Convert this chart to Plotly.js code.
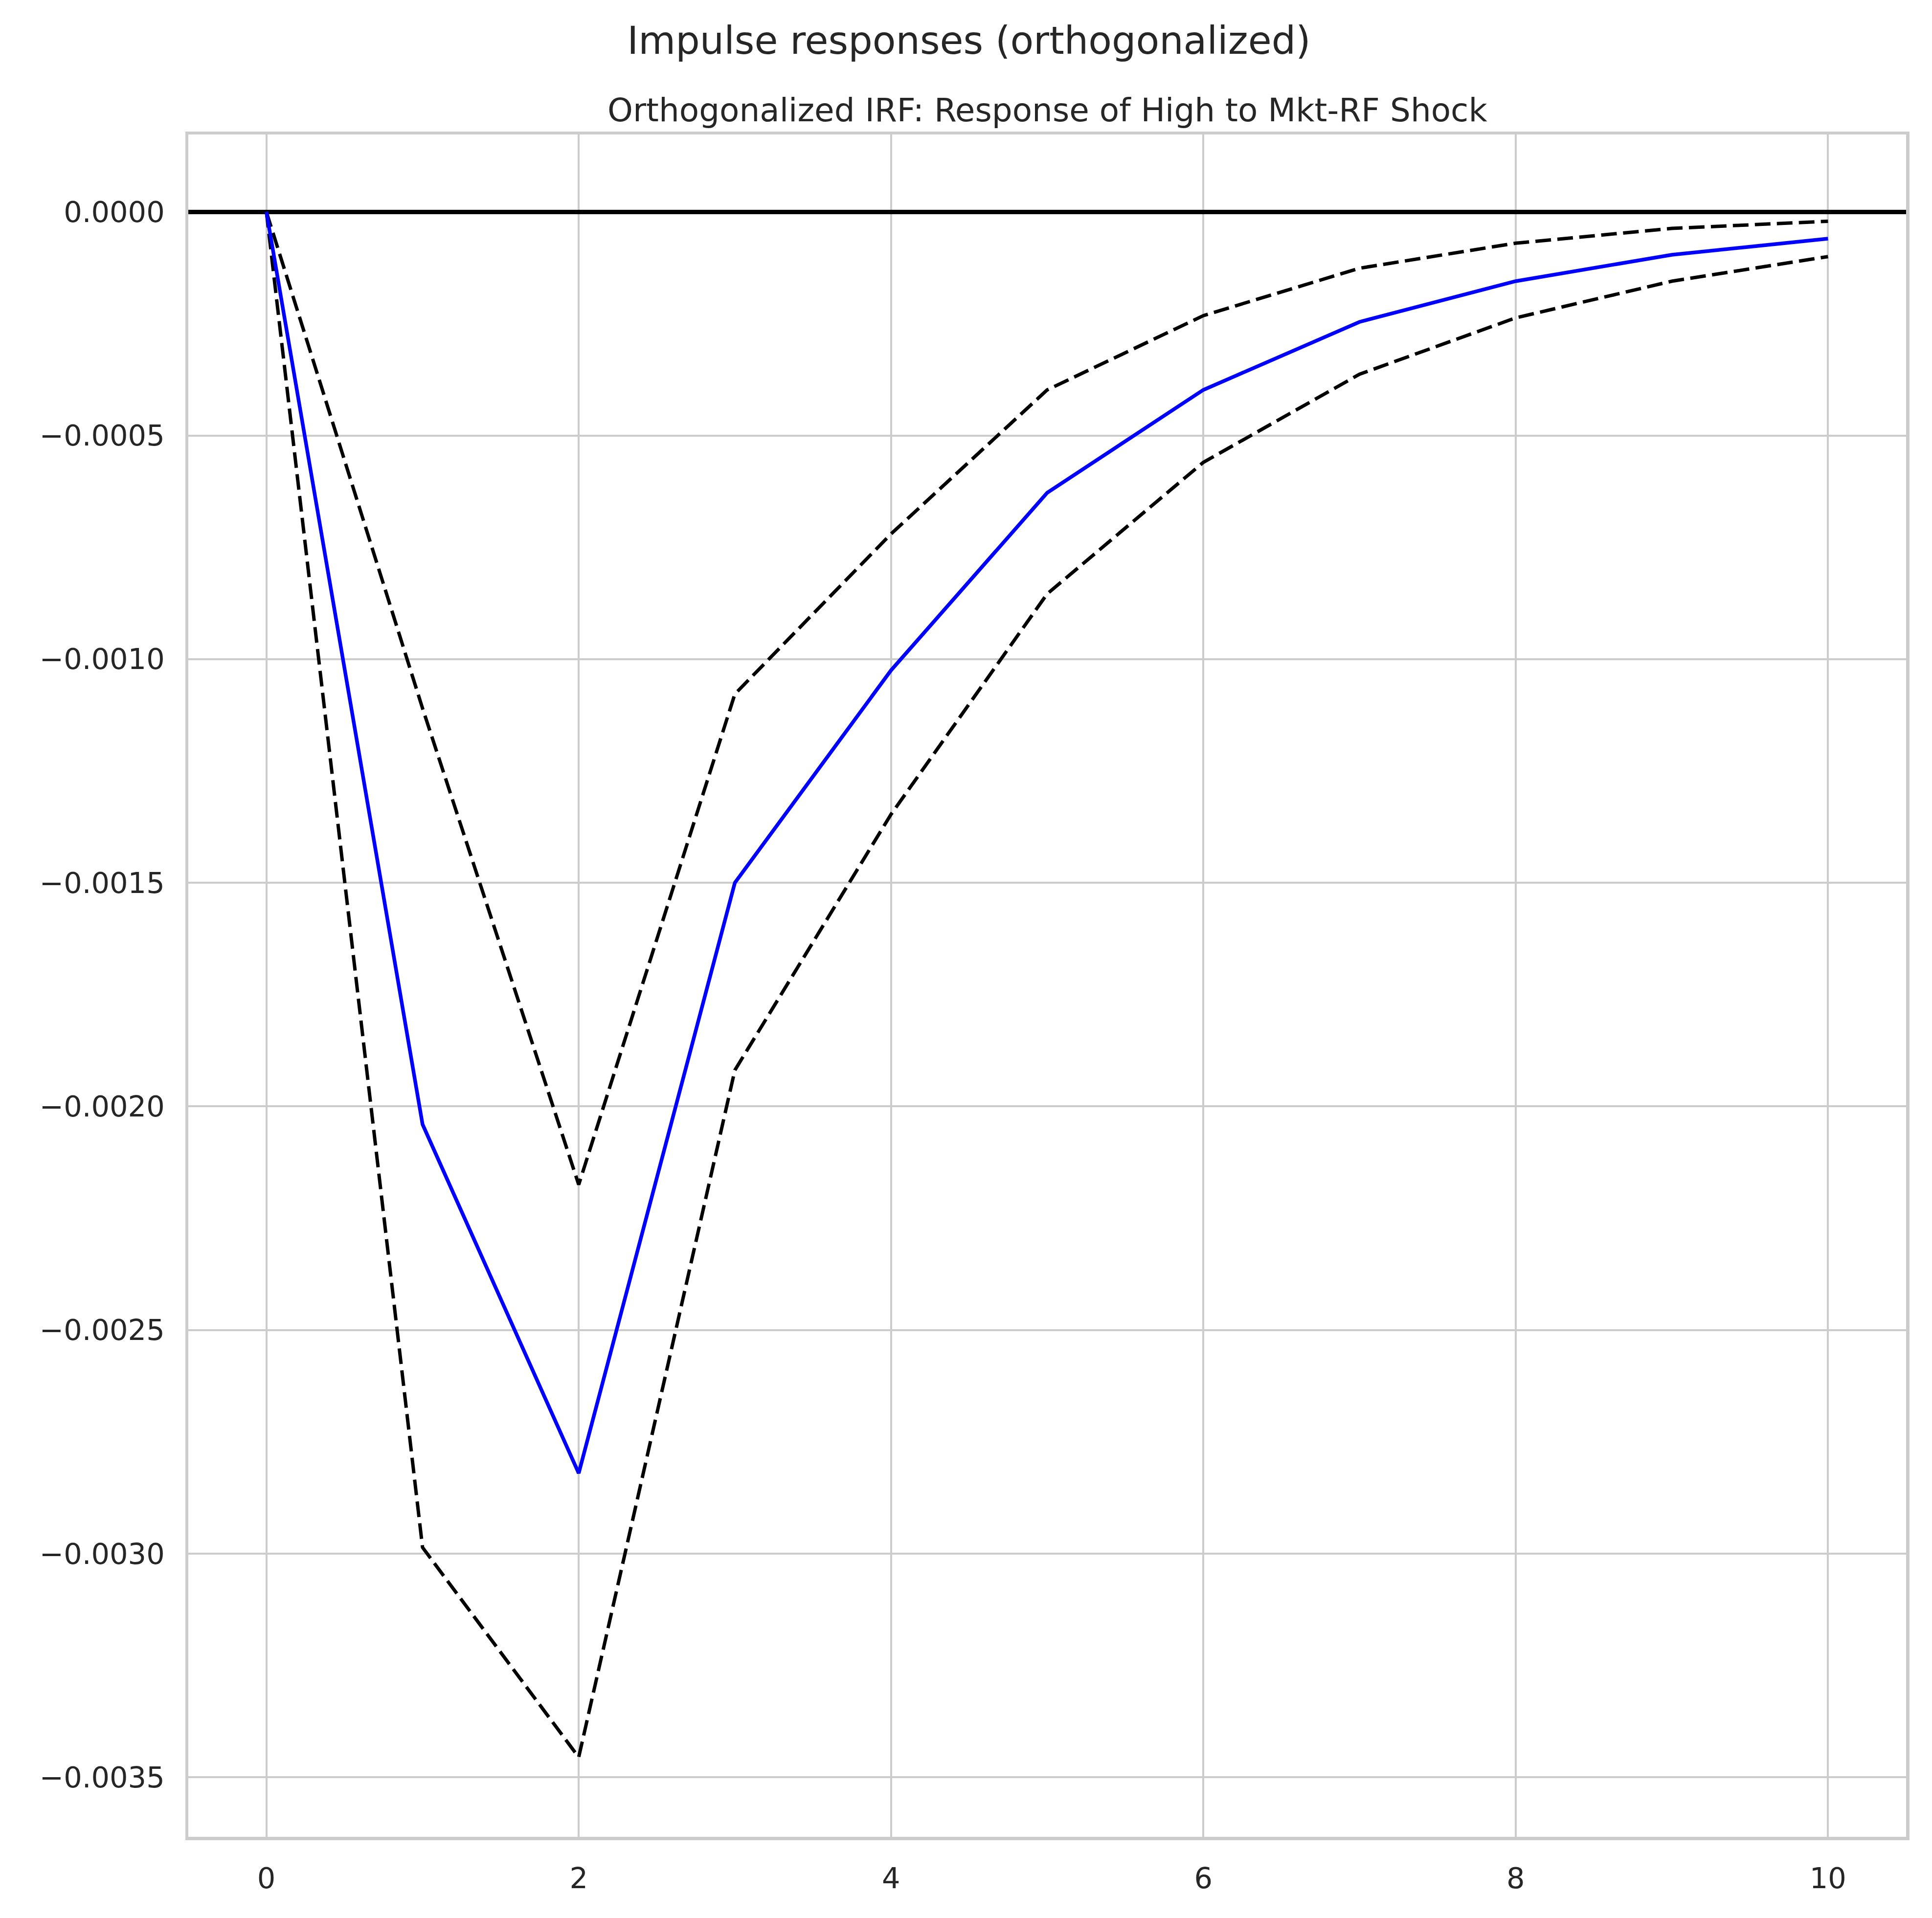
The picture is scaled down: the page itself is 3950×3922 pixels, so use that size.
<!DOCTYPE html>
<html>
<head>
<meta charset="utf-8">
<script src="https://cdn.plot.ly/plotly-3.0.1.min.js"></script>
<style>
  html, body { margin: 0; padding: 0; background: #ffffff; }
  #chart { width: 3950px; height: 3922px; }
</style>
</head>
<body>
<div id="chart"></div>
<script>
// ---- data ----
const horizons = [0, 1, 2, 3, 4, 5, 6, 7, 8, 9, 10];
const irfResponse = [0, -0.00204, -0.00282, -0.00150, -0.001025, -0.000628, -0.000398, -0.000246, -0.000155, -0.000096, -0.000060];
const upperBand = [0, -0.00111, -0.002175, -0.001078, -0.00072, -0.000398, -0.000232, -0.000126, -0.000070, -0.000037, -0.000021];
const lowerBand = [0, -0.002986, -0.003455, -0.001919, -0.001347, -0.000854, -0.00056, -0.000363, -0.000237, -0.000155, -0.000100];
const yTickValues = [0, -0.0005, -0.0010, -0.0015, -0.0020, -0.0025, -0.0030, -0.0035];
const yTickLabels = ["0.0000", "\u22120.0005", "\u22120.0010", "\u22120.0015", "\u22120.0020", "\u22120.0025", "\u22120.0030", "\u22120.0035"];
const xTickValues = [0, 2, 4, 6, 8, 10];
const xTickLabels = ["0", "2", "4", "6", "8", "10"];
const mainTitle = "Impulse responses (orthogonalized)";
const subTitle = "Orthogonalized IRF: Response of High to Mkt-RF Shock";

// ---- styling ----
const FONT = "DejaVu Sans, Verdana, sans-serif";
const TEXT = "#262626";
const GRID = "#cccccc";
const W = 3950, H = 3922;
const M = { l: 385, r: 53, t: 275, b: 166 };
const plotH = H - M.t - M.b;

const traces = [
  { x: horizons, y: upperBand, type: "scatter", mode: "lines",
    line: { color: "#000000", width: 7, dash: "32px,13px" }, hoverinfo: "skip" },
  { x: horizons, y: lowerBand, type: "scatter", mode: "lines",
    line: { color: "#000000", width: 7, dash: "32px,13px" }, hoverinfo: "skip" },
  { x: horizons, y: irfResponse, type: "scatter", mode: "lines",
    line: { color: "#0000ff", width: 7.5 }, hoverinfo: "skip" }
];

const layout = {
  width: W, height: H,
  margin: M,
  paper_bgcolor: "#ffffff",
  plot_bgcolor: "#ffffff",
  showlegend: false,
  font: { family: FONT, color: TEXT, size: 59 },
  title: {
    text: mainTitle,
    font: { family: FONT, size: 78, color: TEXT },
    xref: "container", x: 0.5015, xanchor: "center",
    yref: "container", y: 1 - 83 / H, yanchor: "middle"
  },
  annotations: [{
    text: subTitle, showarrow: false,
    xref: "paper", x: 0.5, xanchor: "center",
    yref: "paper", y: 1 + 50 / plotH, yanchor: "middle",
    font: { family: FONT, size: 66, color: TEXT }
  }],
  xaxis: {
    range: [-0.5, 10.5],
    tickmode: "array", tickvals: xTickValues, ticktext: xTickLabels,
    ticks: "", showgrid: true, gridcolor: GRID, gridwidth: 4,
    zeroline: false,
    showline: true, linecolor: GRID, linewidth: 6.5, mirror: true,
    tickfont: { family: FONT, size: 59, color: TEXT },
    ticklabelstandoff: 28
  },
  yaxis: {
    range: [-0.003633, 0.000173],
    tickmode: "array", tickvals: yTickValues, ticktext: yTickLabels,
    ticks: "", showgrid: true, gridcolor: GRID, gridwidth: 4,
    zeroline: true, zerolinecolor: "#000000", zerolinewidth: 9,
    showline: true, linecolor: GRID, linewidth: 6.5, mirror: true,
    tickfont: { family: FONT, size: 59, color: TEXT },
    ticklabelstandoff: 30
  }
};

Plotly.newPlot("chart", traces, layout, { staticPlot: true, displayModeBar: false });
</script>
</body>
</html>
